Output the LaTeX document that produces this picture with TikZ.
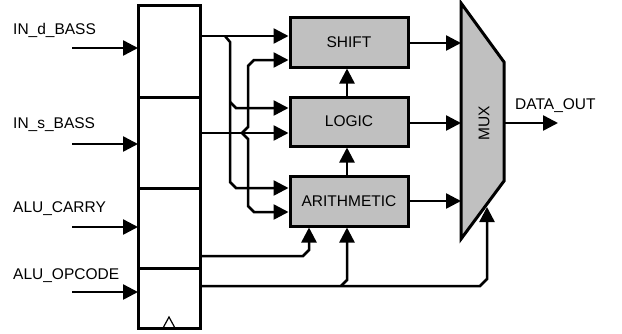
\documentclass[tikz,border=0pt]{standalone}
\usepackage{fontspec}
\setmainfont{Liberation Sans}
\usetikzlibrary{arrows.meta}
\definecolor{blockgray}{HTML}{C0C0C0}
\begin{document}
\begin{tikzpicture}[x=1bp,y=-1bp,
  lbl/.style={font=\fontsize{15.5bp}{18bp}\selectfont, inner sep=0pt},
  regcell/.style={draw, line width=3bp, minimum width=62bp, inner sep=0pt, outer sep=0pt},
  block/.style={draw, line width=3bp, fill=blockgray, minimum width=118bp, inner sep=0pt,
    font=\fontsize{15.5bp}{18bp}\selectfont},
  wire/.style={line width=2.5bp, -{Triangle[length=15bp,width=15bp]}},
  plainwire/.style={line width=2.5bp}
]
\useasboundingbox (0,0) rectangle (622,333);

% register cells
\node[regcell, minimum height=92bp] (c1) at (169,51) {};
\node[regcell, minimum height=91bp] (c2) at (169,142.5) {};
\node[regcell, minimum height=80bp] (c3) at (169,228) {};
\node[regcell, minimum height=60bp] (c4) at (169,298) {};
\draw[line width=1.2bp] (163,328) -- (169,317) -- (175,328);

% input labels and arrows
\node[lbl, anchor=base west] (lind) at (13,34) {IN\_d\_BASS};
\node[lbl, anchor=base west] (lins) at (13,128) {IN\_s\_BASS};
\node[lbl, anchor=base west] (lcarry) at (13,212) {ALU\_CARRY};
\node[lbl, anchor=base west] (lop) at (13,279) {ALU\_OPCODE};
\coordinate (i1) at (72,48);
\coordinate (i2) at (72,144);
\coordinate (i3) at (72,227);
\coordinate (i4) at (72,292);
\draw[wire] (i1) -- (c1.west |- i1);
\draw[wire] (i2) -- (c2.west |- i2);
\draw[wire] (i3) -- (c3.west |- i3);
\draw[wire] (i4) -- (c4.west |- i4);

% function blocks
\node[block, minimum height=50bp] (shift) at (349,42) {SHIFT};
\node[block, minimum height=49bp] (logic) at (349,121.5) {LOGIC};
\node[block, minimum height=50bp] (arith) at (349,201) {ARITHMETIC};

% MUX
\coordinate (m1) at (461,3);
\coordinate (m2) at (504,62);
\coordinate (m3) at (504,181);
\coordinate (m4) at (461,239);
\draw[line width=3bp, fill=blockgray, line join=miter] (m1) -- (m2) -- (m3) -- (m4) -- cycle;
\node[lbl, rotate=90] (muxl) at (484,123) {MUX};

% block outputs to MUX
\draw[wire] (shift.east |- 0,43) -- (m1 |- 0,43);
\draw[wire] (logic.east |- 0,123) -- (m1 |- 0,123);
\draw[wire] (arith.east |- 0,201) -- (m1 |- 0,201);

% DATA_OUT
\coordinate (dout) at (558,123);
\draw[wire] (m2 |- dout) -- (dout);
\node[lbl, anchor=base west] (doutl) at (515,109) {DATA\_OUT};

% vertical chain
\draw[wire] (arith.north -| 347,0) -- (logic.south -| 347,0);
\draw[wire] (logic.north -| 347,0) -- (shift.south -| 347,0);

% register output 1
\draw[wire] (c1.east |- 0,36) -- (shift.west |- 0,36);
\draw[wire] (225,36) -- (230,42) -- (230,182) -- (236,188) -- (arith.west |- 0,188);
\draw[wire] (230,102) -- (236,108) -- (logic.west |- 0,108);

% register output 2
\draw[wire] (c2.east |- 0,133) -- (logic.west |- 0,133);
\draw[wire] (242,133) -- (248,127) -- (248,66) -- (254,60) -- (shift.west |- 0,60);
\draw[wire] (242,133) -- (248,139) -- (248,206) -- (254,212) -- (arith.west |- 0,212);

% register output 3 (carry)
\draw[wire] (c3.east |- 0,256) -- (303,256) -- (309,250) -- (arith.south -| 309,0);

% register output 4 (opcode)
\draw[wire] (c4.east |- 0,286) -- (480,286) -- (487,279) -- (487,207);
\draw[wire] (341,286) -- (347,280) -- (arith.south -| 347,0);
\end{tikzpicture}
\end{document}
